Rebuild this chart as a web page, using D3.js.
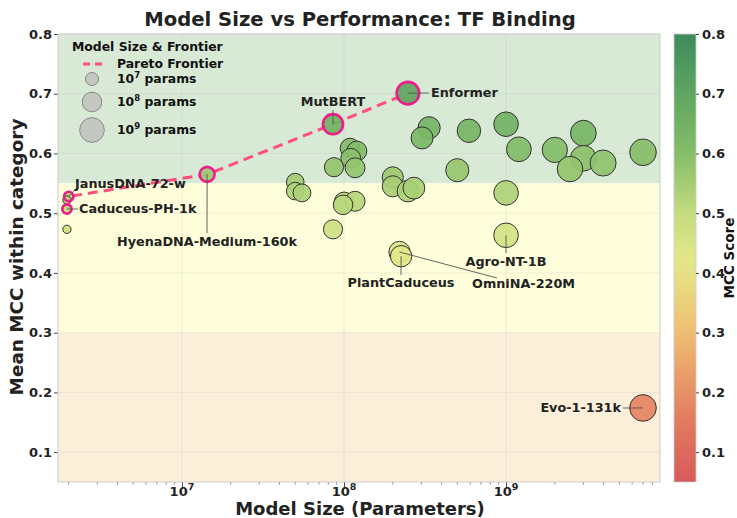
<!DOCTYPE html>
<html>
<head>
<meta charset="utf-8">
<script src="https://cdn.jsdelivr.net/npm/d3@7"></script>
<style>
  html, body { margin: 0; padding: 0; background: #fff; }
  svg { display: block; font-family: "DejaVu Sans", sans-serif; }
</style>
</head>
<body>
<svg id="chart" width="737" height="518"></svg>
<script>
// Model parameter counts and mean MCC (TF binding category)
const modelNames = [
  "Caduceus-PH-1k", "JanusDNA-72-w", "", "",
  "HyenaDNA-Medium-160k", "MutBERT", "Enformer", "", "", "",
  "", "", "", "", "", "", "", "", "", "",
  "", "", "", "", "", "", "",
  "OmniNA-220M", "PlantCaduceus",
  "", "", "", "", "", "", "", "", "",
  "Agro-NT-1B", "Evo-1-131k"
];
const modelParams = [
  1.95e6, 2.0e6, 1.95e6, 1.95e6,
  1.43e7, 8.55e7, 2.48e8, 3.35e8, 3.03e8, 5.9e8,
  1.09e8, 1.2e8, 1.1e8, 8.67e7, 1.17e8, 5.0e8, 2.0e8, 2.0e8, 2.48e8, 2.7e8,
  5.0e7, 5.0e7, 5.5e7, 1.0e8, 1.17e8, 9.86e7, 8.55e7,
  2.2e8, 2.25e8,
  1.0e9, 1.2e9, 2.0e9, 3.0e9, 3.0e9, 2.48e9, 3.97e9, 7.0e9, 1.0e9,
  1.0e9, 7.0e9
];
const modelMcc = [
  0.507, 0.528, 0.522, 0.473,
  0.565, 0.649, 0.701, 0.643, 0.626, 0.638,
  0.609, 0.604, 0.592, 0.577, 0.576, 0.572, 0.560, 0.545, 0.537, 0.542,
  0.552, 0.537, 0.534, 0.519, 0.520, 0.514, 0.473,
  0.435, 0.428,
  0.649, 0.607, 0.606, 0.634, 0.592, 0.574, 0.584, 0.602, 0.534,
  0.463, 0.174
];
// Models on the Pareto frontier, in order of size
const paretoModels = ["Caduceus-PH-1k", "JanusDNA-72-w", "HyenaDNA-Medium-160k", "MutBERT", "Enformer"];

// Performance bands
const bandLows = [0.55, 0.3, 0.05];
const bandHighs = [0.8, 0.55, 0.3];
const bandColors = ["#d8e9d6", "#fefeda", "#fcefda"];

const yTicks = [0.1, 0.2, 0.3, 0.4, 0.5, 0.6, 0.7, 0.8];
const xTicks = [1e7, 1e8, 1e9];
const legendSizes = [1e7, 1e8, 1e9];
const legendLabels = ["7", "8", "9"];
const cbarTicks = [0.1, 0.2, 0.3, 0.4, 0.5, 0.6, 0.7, 0.8];

// Colormap stops (value -> colour)
const cmapValues = [0.05, 0.15, 0.25, 0.33, 0.42, 0.5, 0.6, 0.7, 0.8];
const cmapColors = ["#d65a5a", "#e2795f", "#eca76c", "#edc977", "#e4e88a", "#c3dc7f", "#85bd68", "#5fa561", "#3e8c5c"];

const models = modelParams.map((p, i) => ({ name: modelNames[i], params: p, mcc: modelMcc[i] }));

const svg = d3.select("#chart");
const M = { left: 58, right: 660, top: 34, bottom: 482 };

const x = d3.scaleLog().domain([Math.pow(10, 6.235), Math.pow(10, 9.95)]).range([M.left, M.right]);
const y = d3.scaleLinear().domain([0.05, 0.8]).range([M.bottom, M.top]);
const color = d3.scaleLinear().domain(cmapValues).range(cmapColors).interpolate(d3.interpolateRgb).clamp(true);
const radius = d3.scaleLinear().domain([6, 7, 8, 9, 10]).range([3.2, 6.5, 9.8, 12.3, 13.5]);
const rOf = p => radius(Math.log10(p));

// Bands
svg.append("g").selectAll("rect").data(bandLows).join("rect")
  .attr("x", M.left).attr("width", M.right - M.left)
  .attr("y", (d, i) => y(bandHighs[i]))
  .attr("height", (d, i) => y(d) - y(bandHighs[i]))
  .attr("fill", (d, i) => bandColors[i]);

// Grid
const grid = svg.append("g").attr("stroke", "#b0b0b0").attr("stroke-opacity", 0.25).attr("stroke-width", 0.8);
grid.selectAll(".gy").data(yTicks).join("line")
  .attr("x1", M.left).attr("x2", M.right).attr("y1", d => y(d)).attr("y2", d => y(d));
grid.selectAll(".gx").data(xTicks).join("line")
  .attr("y1", M.top).attr("y2", M.bottom).attr("x1", d => x(d)).attr("x2", d => x(d));

// Axes
const xAxis = d3.axisBottom(x).tickValues(xTicks).tickSize(5).tickFormat("");
const gx = svg.append("g").attr("transform", `translate(0,${M.bottom})`).call(xAxis);
gx.select(".domain").remove();
gx.selectAll(".tick line").attr("stroke", "#444");
// minor ticks
const minor = [];
for (let e = 6; e <= 9; e++) for (let k = 2; k <= 9; k++) {
  const v = k * Math.pow(10, e);
  if (v >= x.domain()[0] && v <= x.domain()[1]) minor.push(v);
}
svg.append("g").selectAll("line").data(minor).join("line")
  .attr("x1", d => x(d)).attr("x2", d => x(d))
  .attr("y1", M.bottom).attr("y2", M.bottom + 2.5)
  .attr("stroke", "#555").attr("stroke-width", 0.7);
const xl = svg.append("g").selectAll("text").data(xTicks).join("text")
  .attr("x", d => x(d)).attr("y", M.bottom + 13.5)
  .attr("text-anchor", "middle").attr("font-size", 13).attr("font-weight", "bold").attr("fill", "#222");
xl.append("tspan").text("10");
xl.append("tspan").attr("dy", -6).attr("font-size", 9.5).text(d => Math.round(Math.log10(d)));

const yAxis = d3.axisLeft(y).tickValues(yTicks).tickSize(4).tickFormat(d3.format(".1f"));
const gy = svg.append("g").attr("transform", `translate(${M.left},0)`).call(yAxis);
gy.select(".domain").remove();
gy.selectAll(".tick line").attr("stroke", "#444");
gy.selectAll(".tick text").attr("font-size", 13).attr("font-weight", "bold").attr("fill", "#222")
  .attr("font-family", "DejaVu Sans").attr("x", -6);

// Frame
svg.append("rect").attr("x", M.left).attr("y", M.top)
  .attr("width", M.right - M.left).attr("height", M.bottom - M.top)
  .attr("fill", "none").attr("stroke", "#cccccc").attr("stroke-width", 1);

// Pareto frontier
const pareto = paretoModels.map(n => models.find(m => m.name === n));
svg.append("path").datum(pareto)
  .attr("d", d3.line().x(d => x(d.params)).y(d => y(d.mcc)))
  .attr("fill", "none").attr("stroke", "#ff4d7e").attr("stroke-width", 3)
  .attr("stroke-dasharray", "10,6");

// Points
svg.append("g").selectAll("circle").data(models).join("circle")
  .attr("cx", d => x(d.params)).attr("cy", d => y(d.mcc))
  .attr("r", d => rOf(d.params))
  .attr("fill", d => color(d.mcc)).attr("fill-opacity", 0.92)
  .attr("stroke", "#333").attr("stroke-width", 1);

// Frontier rings
svg.append("g").selectAll("circle").data(pareto).join("circle")
  .attr("cx", d => x(d.params)).attr("cy", d => y(d.mcc))
  .attr("r", d => rOf(d.params) + 0.5)
  .attr("fill", "none").attr("stroke", "#ee1f8c").attr("stroke-width", 2.6);

// Annotations: [name, text x, text y, anchor, connector end x, connector end y]
const notes = [
  ["JanusDNA-72-w", 75, 184, "start", 75, 190],
  ["Caduceus-PH-1k", 79, 209, "start", 78, 209],
  ["HyenaDNA-Medium-160k", 207, 242, "middle", 207, 233],
  ["MutBERT", 333, 102, "middle", 333, 110],
  ["Enformer", 431, 93, "start", 429, 93],
  ["PlantCaduceus", 401, 283, "middle", 401, 275],
  ["OmniNA-220M", 472, 284, "start", 497, 278],
  ["Agro-NT-1B", 506, 262, "middle", 506, 253],
  ["Evo-1-131k", 621, 408, "end", 623, 408]
];
const ann = svg.append("g");
notes.forEach(([name, tx, ty, anchor, lx, ly]) => {
  const m = models.find(d => d.name === name);
  ann.append("line")
    .attr("x1", x(m.params)).attr("y1", y(m.mcc)).attr("x2", lx).attr("y2", ly)
    .attr("stroke", "#555").attr("stroke-width", 0.9);
  ann.append("text").attr("x", tx).attr("y", ty).attr("dy", "0.35em")
    .attr("text-anchor", anchor).attr("font-size", 12.8).attr("font-weight", "bold")
    .attr("fill", "#222").text(name);
});

// Legend
const lg = svg.append("g");
lg.append("text").attr("x", 72).attr("y", 47).attr("dy", "0.35em")
  .attr("font-size", 12.4).attr("font-weight", "bold").attr("fill", "#111").text("Model Size & Frontier");
lg.append("line").attr("x1", 83).attr("x2", 105).attr("y1", 64).attr("y2", 64)
  .attr("stroke", "#ff4d7e").attr("stroke-width", 3).attr("stroke-dasharray", "7,5");
lg.append("text").attr("x", 117).attr("y", 64).attr("dy", "0.35em")
  .attr("font-size", 12.4).attr("font-weight", "bold").attr("fill", "#111").text("Pareto Frontier");
const legendY = [79, 102, 130];
legendSizes.forEach((s, i) => {
  lg.append("circle").attr("cx", 92).attr("cy", legendY[i]).attr("r", rOf(s))
    .attr("fill", "#c5c8c0").attr("stroke", "#888").attr("stroke-width", 1);
  const t = lg.append("text").attr("x", 117).attr("y", legendY[i]).attr("dy", "0.35em")
    .attr("font-size", 12.4).attr("font-weight", "bold").attr("fill", "#111");
  t.append("tspan").text("10");
  t.append("tspan").attr("dy", -5).attr("font-size", 8.5).text(legendLabels[i]);
  t.append("tspan").attr("dy", 5).text(" params");
});

// Colorbar
const cb = { x: 674, w: 22 };
const defs = svg.append("defs");
const grad = defs.append("linearGradient").attr("id", "cbar").attr("x1", 0).attr("y1", 1).attr("x2", 0).attr("y2", 0);
d3.range(0, 1.0001, 0.05).forEach(t => {
  const v = 0.05 + t * 0.75;
  grad.append("stop").attr("offset", t).attr("stop-color", color(v));
});
svg.append("rect").attr("x", cb.x).attr("y", M.top).attr("width", cb.w).attr("height", M.bottom - M.top)
  .attr("fill", "url(#cbar)").attr("stroke", "#ccc").attr("stroke-width", 0.8);
const cbScale = d3.scaleLinear().domain([0.05, 0.8]).range([M.bottom, M.top]);
const gcb = svg.append("g").attr("transform", `translate(${cb.x + cb.w},0)`)
  .call(d3.axisRight(cbScale).tickValues(cbarTicks).tickSize(3).tickFormat(d3.format(".1f")));
gcb.select(".domain").remove();
gcb.selectAll(".tick line").attr("stroke", "#444");
gcb.selectAll(".tick text").attr("font-size", 13).attr("font-weight", "bold").attr("fill", "#222")
  .attr("font-family", "DejaVu Sans").attr("x", 6);
svg.append("text").attr("transform", `translate(729,258) rotate(-90)`)
  .attr("text-anchor", "middle").attr("dy", "0.35em")
  .attr("font-size", 13.5).attr("font-weight", "bold").attr("fill", "#111").text("MCC Score");

// Titles
svg.append("text").attr("x", 360).attr("y", 19).attr("text-anchor", "middle")
  .attr("dy", "0.35em").attr("font-size", 19.6).attr("font-weight", "bold").attr("fill", "#222")
  .text("Model Size vs Performance: TF Binding");
svg.append("text").attr("x", 360).attr("y", 514.5).attr("text-anchor", "middle")
  .attr("font-size", 18).attr("font-weight", "bold").attr("fill", "#222")
  .text("Model Size (Parameters)");
svg.append("text").attr("transform", `translate(17,257) rotate(-90)`)
  .attr("text-anchor", "middle").attr("dy", "0.35em")
  .attr("font-size", 18.4).attr("font-weight", "bold").attr("fill", "#222")
  .text("Mean MCC within category");
</script>
</body>
</html>
